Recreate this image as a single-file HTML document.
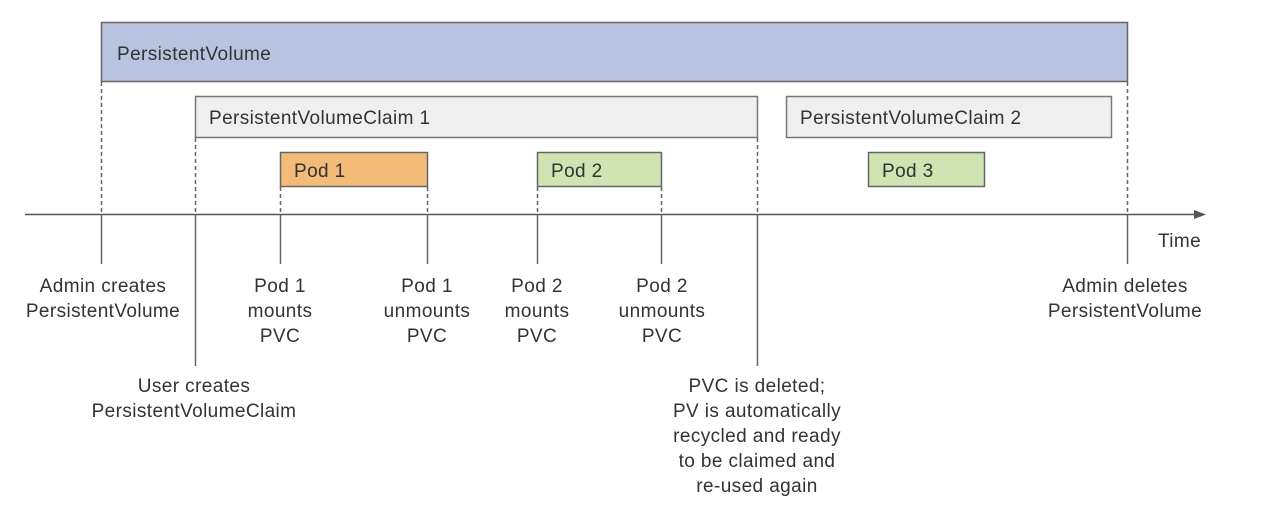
<!DOCTYPE html>
<html><head><meta charset="utf-8"><style>
html,body{margin:0;padding:0;background:#fff;}
svg{display:block;}
text{font-family:"Liberation Sans",sans-serif;font-size:19px;letter-spacing:0.4px;fill:#333;}
</style></head><body>
<svg width="1270" height="524" viewBox="0 0 1270 524" xmlns="http://www.w3.org/2000/svg">
<rect x="0" y="0" width="1270" height="524" fill="#fff"/>
<rect x="101.5" y="22.5" width="1026" height="59" fill="#b8c3e0" stroke="#666" stroke-width="1.5"/>
<text x="117" y="60">PersistentVolume</text>
<rect x="195.5" y="96.5" width="562" height="41" fill="#efefef" stroke="#777" stroke-width="1.5"/>
<text x="209" y="124">PersistentVolumeClaim 1</text>
<rect x="786.5" y="96.5" width="325" height="41" fill="#efefef" stroke="#777" stroke-width="1.5"/>
<text x="800" y="124">PersistentVolumeClaim 2</text>
<rect x="280.5" y="152.5" width="147" height="34" fill="#f2bb78" stroke="#666" stroke-width="1.5"/>
<text x="294" y="177">Pod 1</text>
<rect x="537.5" y="152.5" width="124" height="34" fill="#cfe3b3" stroke="#666" stroke-width="1.5"/>
<text x="551" y="177">Pod 2</text>
<rect x="868.5" y="152.5" width="116" height="34" fill="#cfe3b3" stroke="#666" stroke-width="1.5"/>
<text x="882" y="177">Pod 3</text>
<g stroke="#666" stroke-width="1.5" stroke-dasharray="4,3" fill="none">
<line x1="101.5" y1="82" x2="101.5" y2="214"/>
<line x1="195.5" y1="138" x2="195.5" y2="214"/>
<line x1="280.5" y1="187" x2="280.5" y2="214"/>
<line x1="427.5" y1="187" x2="427.5" y2="214"/>
<line x1="537.5" y1="187" x2="537.5" y2="214"/>
<line x1="661.5" y1="187" x2="661.5" y2="214"/>
<line x1="757.5" y1="138" x2="757.5" y2="214"/>
<line x1="1127.5" y1="82" x2="1127.5" y2="214"/>
</g>
<line x1="25" y1="214.5" x2="1196" y2="214.5" stroke="#555" stroke-width="1.5"/>
<polygon points="1206,214.5 1194,210 1194,219" fill="#555"/>
<text x="1158" y="247">Time</text>
<g stroke="#666" stroke-width="1.5">
<line x1="101.5" y1="214" x2="101.5" y2="264"/>
<line x1="195.5" y1="214" x2="195.5" y2="366"/>
<line x1="280.5" y1="214" x2="280.5" y2="264"/>
<line x1="427.5" y1="214" x2="427.5" y2="264"/>
<line x1="537.5" y1="214" x2="537.5" y2="264"/>
<line x1="661.5" y1="214" x2="661.5" y2="264"/>
<line x1="757.5" y1="214" x2="757.5" y2="366"/>
<line x1="1127.5" y1="214" x2="1127.5" y2="264"/>
</g>
<g text-anchor="middle">
<text x="103" y="292">Admin creates</text>
<text x="103" y="317">PersistentVolume</text>
<text x="280" y="292">Pod 1</text>
<text x="280" y="317">mounts</text>
<text x="280" y="342">PVC</text>
<text x="427" y="292">Pod 1</text>
<text x="427" y="317">unmounts</text>
<text x="427" y="342">PVC</text>
<text x="537" y="292">Pod 2</text>
<text x="537" y="317">mounts</text>
<text x="537" y="342">PVC</text>
<text x="662" y="292">Pod 2</text>
<text x="662" y="317">unmounts</text>
<text x="662" y="342">PVC</text>
<text x="1125" y="292">Admin deletes</text>
<text x="1125" y="317">PersistentVolume</text>
<text x="194" y="392">User creates</text>
<text x="194" y="417">PersistentVolumeClaim</text>
<text x="757" y="392">PVC is deleted;</text>
<text x="757" y="417">PV is automatically</text>
<text x="757" y="442">recycled and ready</text>
<text x="757" y="467">to be claimed and</text>
<text x="757" y="492">re-used again</text>
</g>
</svg>
</body></html>
